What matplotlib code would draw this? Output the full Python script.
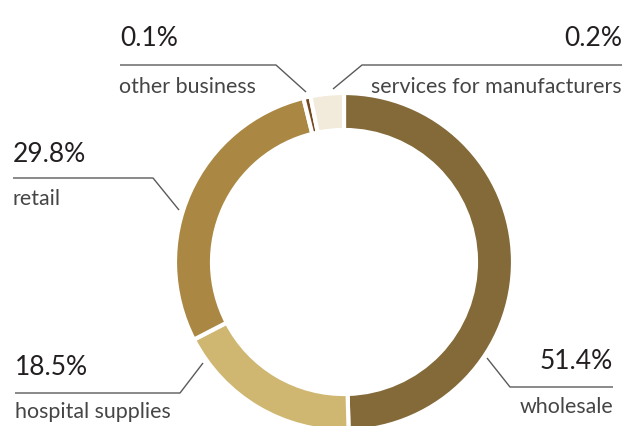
import numpy as np
import matplotlib
matplotlib.use("Agg")
import matplotlib.pyplot as plt

# Sales breakdown by business segment (%)
segments = ["wholesale", "hospital supplies", "retail", "other business", "services for manufacturers"]
shares = [51.4, 18.5, 29.8, 0.1, 0.2]
colors = ["#836a38", "#cfb671", "#aa8843", "#73481e", "#f2eada"]

# tiny segments get a minimum sweep so they stay visible on the ring
min_sweep = {"other business": 0.7, "services for manufacturers": 3.3}
shown = [max(v, min_sweep.get(s, 0)) for s, v in zip(segments, shares)]

plt.rcParams["font.family"] = ["Lato", "DejaVu Sans"]

fig = plt.figure(figsize=(6.25, 4.26), dpi=100)
ax = fig.add_axes([0, 0, 1, 1])

cx, cy, R = 344, 262, 169
ax.pie(shown, colors=colors, startangle=-90, counterclock=True,
       center=(cx, cy), radius=R,
       wedgeprops=dict(width=37, edgecolor="white", linewidth=3))

ax.set_xlim(0, 625)
ax.set_ylim(426, 0)
ax.set_aspect("equal")
ax.axis("off")

pct_kw = dict(fontsize=19, color="#231f20")
lab_kw = dict(fontsize=15.4, color="#454545")
line_kw = dict(color="#5a5a5a", lw=1.0, solid_capstyle="butt")

# label layout: (segment, percent xy, label xy, align, leader path)
layout = [
    ("other business", (120, 46), (119, 93), "left", [(120, 65), (276, 65), (306, 92)]),
    ("services for manufacturers", (622, 46), (622, 93), "right", [(622, 65), (362, 65), (333, 89)]),
    ("retail", (13, 162), (13, 205), "left", [(13, 178), (153, 178), (179, 210)]),
    ("hospital supplies", (15, 375), (15, 418), "left", [(15, 393), (180, 393), (203, 363)]),
    ("wholesale", (613, 369), (613, 413), "right", [(487, 358), (510, 387), (613, 387)]),
]

for name, pxy, lxy, ha, path in layout:
    val = shares[segments.index(name)]
    ax.text(pxy[0], pxy[1], f"{val:.1f}%", ha=ha, va="baseline", **pct_kw)
    ax.text(lxy[0], lxy[1], name, ha=ha, va="baseline", **lab_kw)
    xs, ys = zip(*path)
    ax.plot(xs, ys, **line_kw)

fig.savefig("out.png", dpi=100)
